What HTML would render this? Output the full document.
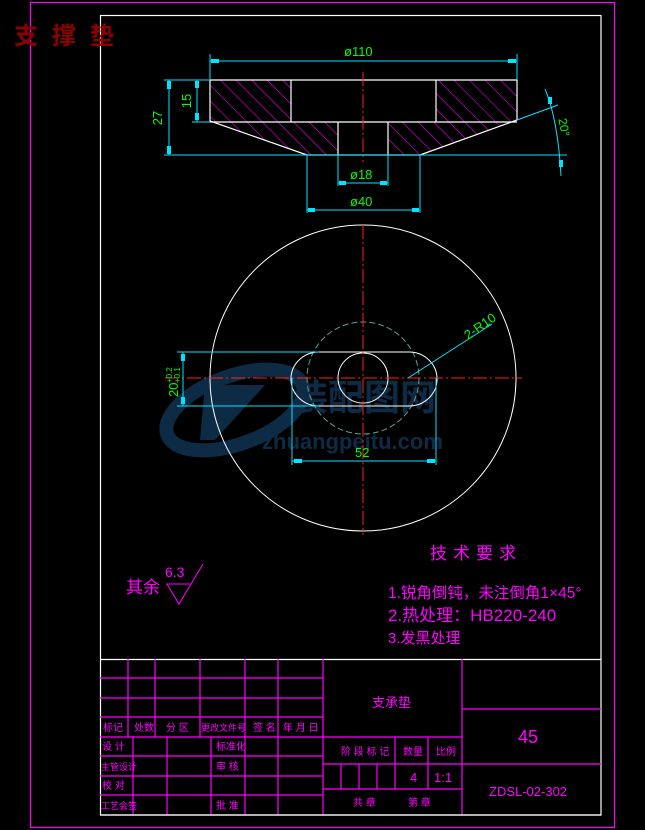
<!DOCTYPE html>
<html><head><meta charset="utf-8"><style>
html,body{margin:0;padding:0;background:#000;}
svg{display:block;}
text{font-family:"Liberation Sans","Noto Sans CJK SC",sans-serif;}
.cn{font-family:"Liberation Sans","Noto Sans CJK SC",sans-serif;}
</style></head><body>
<svg width="645" height="830" viewBox="0 0 645 830" xmlns="http://www.w3.org/2000/svg">
<defs>
<pattern id="h" patternUnits="userSpaceOnUse" width="11" height="11" patternTransform="rotate(-45)">
<line x1="0" y1="0" x2="0" y2="11" stroke="#ff00ff" stroke-width="1.1"/>
</pattern>
</defs>
<rect width="645" height="830" fill="#000"/>
<!-- watermark -->
<g opacity="0.55">
<ellipse cx="235" cy="410" rx="72" ry="34" fill="none" stroke="#1a4f80" stroke-width="14" transform="rotate(-20 235 410)"/>
<polygon points="205,385 265,385 215,440 200,440" fill="#1a4f80"/>
<text x="292" y="410" font-size="36" font-weight="bold" fill="#1a4f80" class="cn">装配图网</text>
<text x="262" y="449" font-size="22" font-weight="bold" fill="#1a4f80">zhuangpeitu.com</text>
</g>
<!-- borders -->
<rect x="30.5" y="2.5" width="584" height="825" fill="none" stroke="#ff00ff" stroke-width="1.2"/>
<rect x="100.5" y="15.5" width="500.5" height="799.5" fill="none" stroke="#fff" stroke-width="1.2"/>
<text x="14" y="44" font-size="24" font-weight="bold" fill="#8b0000" font-family="'Noto Serif CJK SC',serif" letter-spacing="14">支撑垫</text>

<!-- section view hatch -->
<polygon points="210,80 291,80 291,122 338,122 338,155 307,155 210,121" fill="url(#h)"/>
<polygon points="436,80 517,80 517,120 420,155 388,155 388,122 436,122" fill="url(#h)"/>
<g stroke="#fff" stroke-width="1.2" fill="none">
<polyline points="210,80 517,80 517,120 420,155 307,155 210,121 210,80"/>
<line x1="291" y1="80" x2="291" y2="122"/><line x1="436" y1="80" x2="436" y2="122"/>
<line x1="210" y1="122" x2="517" y2="122"/>
<line x1="338" y1="122" x2="338" y2="155"/><line x1="388" y1="122" x2="388" y2="155"/>
</g>
<line x1="363" y1="72" x2="363" y2="162" stroke="#ff2020" stroke-width="1" stroke-dasharray="14,3,2,3"/>
<g stroke="#00e5ff" stroke-width="1" fill="none">
<line x1="210" y1="54" x2="210" y2="80"/><line x1="517" y1="54" x2="517" y2="80"/>
<line x1="210" y1="61" x2="517" y2="61"/>
<line x1="164" y1="80" x2="210" y2="80"/><line x1="164" y1="155" x2="567" y2="155"/>
<line x1="192" y1="122" x2="210" y2="122"/>
<line x1="169" y1="80" x2="169" y2="155"/><line x1="197" y1="80" x2="197" y2="122"/>
<line x1="338" y1="155" x2="338" y2="186"/><line x1="388" y1="155" x2="388" y2="186"/>
<line x1="338" y1="183" x2="388" y2="183"/>
<line x1="307" y1="155" x2="307" y2="213"/><line x1="420" y1="155" x2="420" y2="213"/>
<line x1="307" y1="210" x2="420" y2="210"/>
<line x1="517" y1="120" x2="558" y2="105"/>
<path d="M545,89 Q558,120 561,176"/>
</g>
<g fill="#00e5ff">
<rect x="211" y="59" width="8" height="4"/><rect x="508" y="59" width="8" height="4"/>
<rect x="167" y="81" width="4" height="8"/><rect x="167" y="146" width="4" height="8"/>
<rect x="195" y="81" width="4" height="7"/><rect x="195" y="113" width="4" height="7"/>
<rect x="339" y="181" width="7" height="4"/><rect x="380" y="181" width="7" height="4"/>
<rect x="308" y="208" width="7" height="4"/><rect x="412" y="208" width="7" height="4"/>
<rect x="548" y="97" width="4" height="7"/><rect x="559" y="160" width="4" height="7"/>
</g>
<g fill="#00ff00" font-size="13">
<text x="344" y="56">ø110</text>
<text x="350" y="179">ø18</text>
<text x="350" y="206">ø40</text>
<text transform="translate(162,118) rotate(-90)" text-anchor="middle">27</text>
<text transform="translate(191,101) rotate(-90)" text-anchor="middle">15</text>
<text transform="translate(560,128) rotate(80)" text-anchor="middle" font-size="12">20°</text>
</g>

<!-- plan view -->
<circle cx="363" cy="378" r="153" fill="none" stroke="#fff" stroke-width="1"/>
<circle cx="363" cy="378" r="56" fill="none" stroke="#5f9f8f" stroke-width="1" stroke-dasharray="6,3"/>
<path d="M319,352 L409,352 A27,26 0 0 1 409,406 L319,406 A27,26 0 0 1 319,352 Z" fill="none" stroke="#fff" stroke-width="1"/>
<circle cx="363" cy="378" r="25" fill="none" stroke="#fff" stroke-width="1"/>
<line x1="363" y1="225" x2="363" y2="535" stroke="#ff2020" stroke-width="1" stroke-dasharray="14,3,2,3"/>
<line x1="165" y1="378" x2="522" y2="378" stroke="#ff2020" stroke-width="1" stroke-dasharray="14,3,2,3"/>
<g stroke="#00e5ff" stroke-width="1">
<line x1="177" y1="352" x2="319" y2="352"/><line x1="177" y1="406" x2="319" y2="406"/>
<line x1="183" y1="352" x2="183" y2="406"/>
<line x1="292" y1="378" x2="292" y2="465"/><line x1="436" y1="378" x2="436" y2="465"/>
<line x1="292" y1="461" x2="436" y2="461"/>
<line x1="408" y1="378" x2="492" y2="324"/>
</g>
<g fill="#00e5ff">
<rect x="181" y="354" width="4" height="7"/><rect x="181" y="397" width="4" height="7"/>
<rect x="294" y="459" width="8" height="4"/><rect x="427" y="459" width="8" height="4"/>
</g>
<g fill="#00ff00">
<text x="355" y="457" font-size="13">52</text>
<text transform="translate(468,340) rotate(-35)" font-size="13">2-R10</text>
<text transform="translate(178,397) rotate(-90)" font-size="13">20</text>
<text transform="translate(172,383) rotate(-90)" font-size="8">+0.2</text>
<text transform="translate(180,383) rotate(-90)" font-size="8">+0.1</text>
</g>

<!-- notes -->
<g fill="#ff00ff" class="cn">
<text x="430" y="559" font-size="17" letter-spacing="6">技术要求</text>
<text x="388" y="598" font-size="15.5">1.锐角倒钝，未注倒角1×45°</text>
<text x="388" y="621" font-size="17">2.热处理：HB220-240</text>
<text x="388" y="643" font-size="15">3.发黑处理</text>
<text x="126" y="593" font-size="17">其余</text>
<text x="165" y="577" font-size="14">6.3</text>
</g>
<polyline points="166,584 190,584" stroke="#ff00ff" fill="none"/>
<polyline points="167,584 179,604 203,564" stroke="#ff00ff" fill="none"/>

<!-- title block -->
<line x1="100" y1="659.5" x2="601" y2="659.5" stroke="#fff" stroke-width="1.2"/>
<g stroke="#ff00ff" stroke-width="1.2" fill="none">
<line x1="100" y1="678" x2="323" y2="678"/><line x1="100" y1="698" x2="323" y2="698"/>
<line x1="100" y1="717" x2="323" y2="717"/><line x1="100" y1="737" x2="462" y2="737"/>
<line x1="100" y1="756" x2="323" y2="756"/><line x1="100" y1="776" x2="323" y2="776"/>
<line x1="100" y1="795" x2="323" y2="795"/>
<line x1="128" y1="659" x2="128" y2="737"/><line x1="155" y1="659" x2="155" y2="737"/>
<line x1="200" y1="659" x2="200" y2="737"/>
<line x1="245" y1="659" x2="245" y2="815"/><line x1="278" y1="659" x2="278" y2="815"/>
<line x1="323" y1="659" x2="323" y2="815"/>
<line x1="133" y1="737" x2="133" y2="815"/><line x1="167" y1="737" x2="167" y2="815"/>
<line x1="211" y1="737" x2="211" y2="815"/>
<line x1="462" y1="659" x2="462" y2="815"/>
<line x1="323" y1="764" x2="601" y2="764"/><line x1="323" y1="789" x2="462" y2="789"/>
<line x1="462" y1="709" x2="601" y2="709"/>
<line x1="395" y1="737" x2="395" y2="789"/><line x1="428" y1="737" x2="428" y2="789"/>
<line x1="341" y1="764" x2="341" y2="789"/><line x1="359" y1="764" x2="359" y2="789"/>
<line x1="377" y1="764" x2="377" y2="789"/>
</g>
<g fill="#ff00ff" font-size="10" class="cn">
<text x="103" y="731">标记</text><text x="134" y="731">处数</text><text x="166" y="731">分 区</text>
<text x="201" y="731" font-size="9">更改文件号</text><text x="253" y="731">签 名</text><text x="283" y="731">年 月 日</text>
<text x="102" y="750">设 计</text><text x="216" y="750">标准化</text>
<text x="101" y="770" font-size="9">主管设计</text><text x="216" y="770">审 核</text>
<text x="102" y="789">校 对</text>
<text x="101" y="809" font-size="9">工艺会签</text><text x="216" y="809">批 准</text>
<text x="341" y="755">阶 段 标 记</text><text x="403" y="755">数量</text><text x="436" y="755">比例</text>
<text x="353" y="806">共  章</text><text x="408" y="806">第  章</text>
<text x="372" y="707" font-size="13">支承垫</text>
</g>
<g fill="#ff00ff">
<text x="410" y="782" font-size="13">4</text>
<text x="434" y="782" font-size="13">1:1</text>
<text x="518" y="743" font-size="18">45</text>
<text x="489" y="796" font-size="13">ZDSL-02-302</text>
</g>
<line x1="100" y1="815" x2="601" y2="815" stroke="#fff" stroke-width="1.2"/>
</svg>
</body></html>
